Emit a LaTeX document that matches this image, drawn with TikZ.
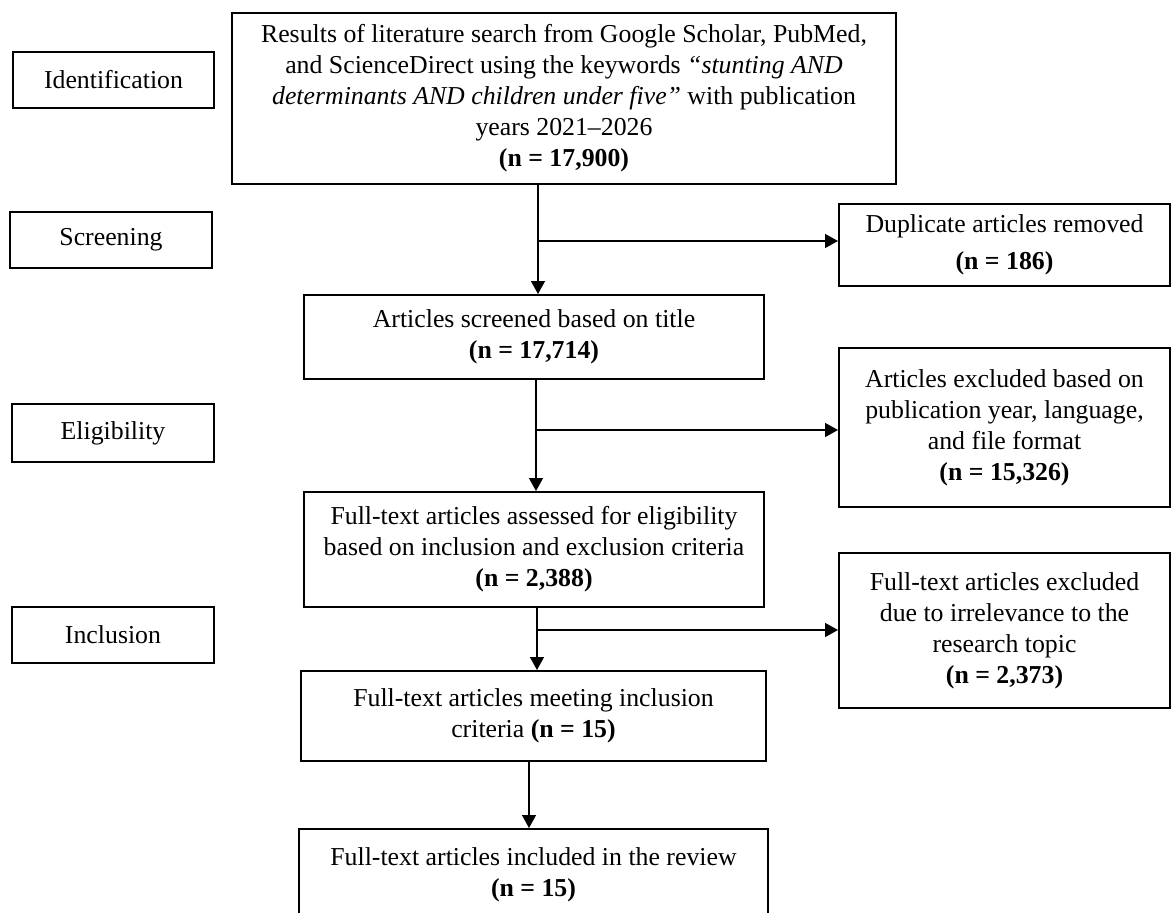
\documentclass[tikz,border=0pt]{standalone}
\usepackage{fontspec}
\setmainfont{Liberation Serif}
\usetikzlibrary{arrows.meta,calc}
\newcommand\pxu{0.4651pt}
\tikzset{
  box/.style={draw=black, line width=0.9pt, align=center, inner sep=0pt,
    font=\fontsize{12}{14.4}\selectfont},
  arr/.style={line width=0.8pt, -{Triangle[length=6pt,width=6.4pt]}},
  ln/.style={line width=0.8pt}
}
\begin{document}
\begin{tikzpicture}[x=0.4651pt, y=-0.4651pt]
\useasboundingbox[fill=white] (0,0) rectangle (1173,913);
% stage labels
\node[box, minimum width=201*\pxu, minimum height=56*\pxu] (ident) at (113.5,80) {Identification};
\node[box, minimum width=202*\pxu, minimum height=56*\pxu] (screenL) at (111,240) {Screening};
\node[box, minimum width=202*\pxu, minimum height=58*\pxu] (elig) at (113,433) {Eligibility};
\node[box, minimum width=202*\pxu, minimum height=56*\pxu] (incl) at (113,635) {Inclusion};
% main flow
\node[box, minimum width=664*\pxu, minimum height=171*\pxu] (top) at (564,98.5)
  {Results of literature search from Google Scholar, PubMed,\\
   and ScienceDirect using the keywords \textit{“stunting AND}\\
   \textit{determinants AND children under five”} with publication\\
   years 2021–2026\\
   \textbf{(n = 17,900)}};
\node[box, minimum width=460*\pxu, minimum height=84*\pxu] (scr) at (534,337)
  {Articles screened based on title\\ \textbf{(n = 17,714)}};
\node[box, minimum width=460*\pxu, minimum height=115*\pxu] (ass) at (534,549.5)
  {Full-text articles assessed for eligibility\\
   based on inclusion and exclusion criteria\\
   \textbf{(n = 2,388)}};
\node[box, minimum width=465*\pxu, minimum height=90*\pxu] (meet) at (533.5,716)
  {Full-text articles meeting inclusion\\ criteria \textbf{(n = 15)}};
\node[box, minimum width=469*\pxu, minimum height=92*\pxu] (inc) at (533.5,875)
  {Full-text articles included in the review\\ \textbf{(n = 15)}};
% side boxes
\node[box, minimum width=331*\pxu, minimum height=82*\pxu] (dup) at (1004.5,245)
  {Duplicate articles removed\\[3pt] \textbf{(n = 186)}};
\node[box, minimum width=331*\pxu, minimum height=159*\pxu] (ex1) at (1004.5,427.5)
  {Articles excluded based on\\ publication year, language,\\ and file format\\ \textbf{(n = 15,326)}};
\node[box, minimum width=331*\pxu, minimum height=155*\pxu] (ex2) at (1004.5,630.5)
  {Full-text articles excluded\\ due to irrelevance to the\\ research topic\\ \textbf{(n = 2,373)}};
% branch coordinates
\coordinate (m1) at (538,241);
\coordinate (m2) at (536,430);
\coordinate (m3) at (537,630);
\coordinate (m4) at (529,700);
% connectors
\draw[arr] (top.south -| m1) -- (scr.north -| m1);
\draw[arr] (m1) -- (dup.west |- m1);
\draw[arr] (scr.south -| m2) -- (ass.north -| m2);
\draw[arr] (m2) -- (ex1.west |- m2);
\draw[arr] (ass.south -| m3) -- (meet.north -| m3);
\draw[arr] (m3) -- (ex2.west |- m3);
\draw[arr] (meet.south -| m4) -- (inc.north -| m4);
\end{tikzpicture}
\end{document}
